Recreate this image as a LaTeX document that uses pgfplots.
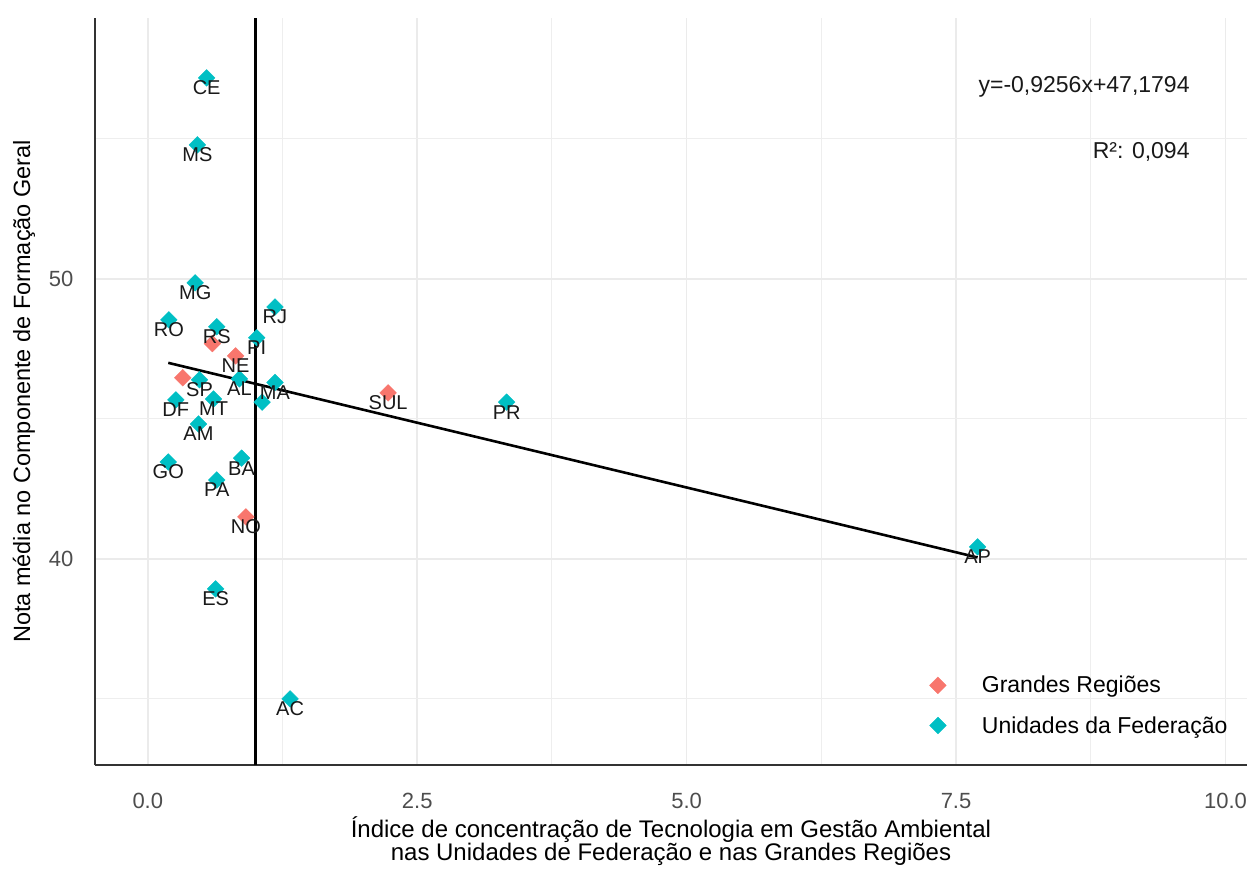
\documentclass[border=0pt]{standalone}
\usepackage{pgfplots}
\pgfplotsset{compat=1.18}
\usepackage{fontspec}
\setmainfont{Liberation Sans}
\definecolor{uf}{HTML}{00BFC4}
\definecolor{gr}{HTML}{F8766D}
\definecolor{tickgray}{HTML}{4D4D4D}
\definecolor{gridc}{HTML}{EBEBEB}
\pgfplotsset{myleg/.style={legend image code/.code={\path[draw=none,fill=none] (-25pt,-5pt) rectangle (42pt,5pt);\draw[mark repeat=2,mark phase=2,##1] plot coordinates {(-20pt,0pt)(0pt,0pt)(20pt,0pt)};}}}
\begin{document}
\begin{tikzpicture}[x=1pt,y=1pt]
\useasboundingbox (0,0) rectangle (1247,868);
\begin{axis}[
  at={(95pt,103pt)}, anchor=south west,
  scale only axis, width=1152pt, height=747pt,
  xmin=-0.49, xmax=10.2, ymin=32.64, ymax=59.32,
  xtick={0,2.5,5,7.5,10}, xticklabels={0.0,2.5,5.0,7.5,10.0},
  minor xtick={1.25,3.75,6.25,8.75},
  ytick={40,50}, minor ytick={35,45,55},
  /pgf/number format/assume math mode=true,
  grid=both,
  major grid style={gridc, line width=1.6pt},
  minor grid style={gridc!85, line width=0.9pt},
  axis x line*=bottom, axis y line*=left,
  axis line style={-, black!80, line width=2.4pt},
  every outer x axis line/.append style={-},
  every outer y axis line/.append style={-},
  major tick length=0pt, minor tick length=0pt,
  ticklabel style={font=\fontsize{22}{25}\selectfont, text=tickgray},
  xticklabel style={yshift=-25pt},
  yticklabel style={xshift=-18pt},
  xlabel={Índice de concentração de Tecnologia em Gestão Ambiental\\nas Unidades de Federação e nas Grandes Regiões},
  ylabel={Nota média no Componente de Formação Geral},
  every axis x label/.style={at={(axis description cs:0.5,-0.1017)}, anchor=center, align=center, font=\fontsize{24}{22}\selectfont},
  every axis y label/.style={at={(axis description cs:-0.0616,0.5)}, rotate=90, anchor=center, font=\fontsize{23.5}{22}\selectfont},
  clip=false,
  legend cell align=left,
  legend style={at={(axis cs:7.07,35.96)}, anchor=north west, draw=none, fill=none,
    font=\fontsize{23}{26}\selectfont, row sep=18pt},
]
% vertical reference line and regression line
\addplot[black, line width=3pt, forget plot] coordinates {(1,32.64) (1,59.32)};
\addplot[black, line width=2.6pt, forget plot] coordinates {(0.19,47.0035) (7.70,40.0523)};

% Grandes Regiões
\addplot[only marks, mark=square*, mark size=5.9pt, color=gr, mark options={draw=gr, fill=gr, rotate=45}, myleg] table {
x y
0.815 47.25
0.91 41.50
2.23 45.93
0.60 47.69
0.325 46.47
};
\addlegendentry{Grandes Regiões}
% Unidades da Federação
\addplot[only marks, mark=square*, mark size=5.9pt, color=uf, mark options={draw=uf, fill=uf, rotate=45}, myleg] table {
x y
0.546 57.18
0.46 54.79
0.44 49.86
0.195 48.54
0.64 48.29
1.18 49.00
1.01 47.90
0.48 46.40
0.85 46.43
1.18 46.30
1.06 45.60
0.26 45.68
0.61 45.71
0.47 44.82
0.19 43.46
0.87 43.60
0.64 42.82
0.63 38.93
1.32 35.00
3.33 45.60
7.70 40.43
};
\addlegendentry{Unidades da Federação}

% labels
\addplot[only marks, mark=none, forget plot, nodes near coords, point meta=explicit symbolic,
  nodes near coords style={anchor=center, yshift=-10pt, font=\fontsize{20}{23}\selectfont, text=black!90, inner sep=0pt}]
  table[meta=lab] {
x y lab
0.815 47.25 NE
0.91 41.50 NO
2.23 45.93 SUL
0.546 57.18 CE
0.46 54.79 MS
0.44 49.86 MG
0.195 48.54 RO
0.64 48.29 RS
1.18 49.00 RJ
1.01 47.90 PI
0.48 46.40 SP
0.85 46.43 AL
1.18 46.30 MA
0.26 45.68 DF
0.61 45.71 MT
0.47 44.82 AM
0.19 43.46 GO
0.87 43.60 BA
0.64 42.82 PA
0.63 38.93 ES
1.32 35.00 AC
3.33 45.60 PR
7.70 40.43 AP
};

\node[anchor=east, font=\fontsize{23}{26}\selectfont, text=black!90] at (axis cs:9.70,56.86) {y=-0,9256x+47,1794};
\node[anchor=east, font=\fontsize{23}{26}\selectfont, text=black!90] at (axis cs:9.70,54.53) {R²: 0,094};
\end{axis}
\end{tikzpicture}
\end{document}
